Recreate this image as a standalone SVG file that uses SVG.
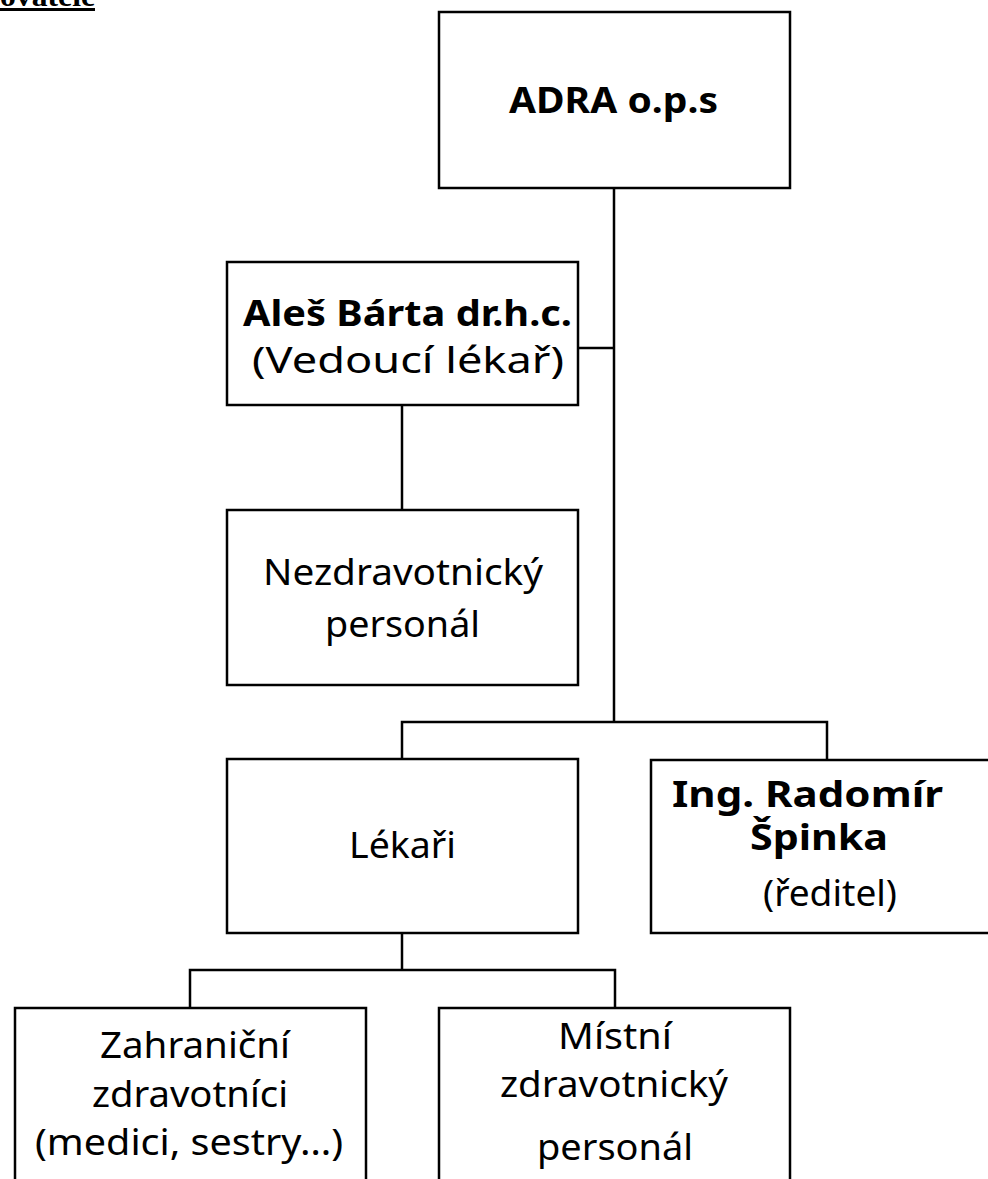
<svg xmlns="http://www.w3.org/2000/svg" width="988" height="1179" viewBox="0 0 988 1179">
<style>
.box{fill:#fff;stroke:#000;stroke-width:2.5}
.ln{fill:none;stroke:#000;stroke-width:2.5}
.t{font-family:"Noto Sans","Open Sans",sans-serif;font-size:37px;fill:#000}
.b{font-weight:bold;font-size:35px}
.hd{font-family:"Liberation Serif","Times New Roman",serif;font-weight:bold;font-size:30px;fill:#000}
</style>
<rect width="988" height="1179" fill="#fff"/>
<g id="header">
<text class="hd" x="0" y="6" textLength="95" lengthAdjust="spacingAndGlyphs">ovatele</text>
<rect x="0" y="8" width="95" height="3" fill="#000"/>
</g>
<g id="connectors">
<polyline class="ln" points="614,188 614,722"/>
<polyline class="ln" points="578,348 614,348"/>
<polyline class="ln" points="402,405 402,510"/>
<polyline class="ln" points="402,759 402,722 827,722 827,760"/>
<polyline class="ln" points="402,933 402,970"/>
<polyline class="ln" points="190,1008 190,970 615,970 615,1008"/>
</g>
<g id="adra">
<rect class="box" x="439" y="12" width="351" height="176"/>
<text class="t b" x="509" y="113" textLength="209" lengthAdjust="spacingAndGlyphs">ADRA o.p.s</text>
</g>
<g id="bartA">
<rect class="box" x="227" y="262" width="351" height="143"/>
<text class="t b" x="243" y="326" textLength="329" lengthAdjust="spacingAndGlyphs">Aleš Bárta dr.h.c.</text>
<text class="t" x="252" y="373" textLength="312" lengthAdjust="spacingAndGlyphs">(Vedoucí lékař)</text>
</g>
<g id="nezdrav">
<rect class="box" x="227" y="510" width="351" height="175"/>
<text class="t" x="263" y="585" textLength="280" lengthAdjust="spacingAndGlyphs">Nezdravotnický</text>
<text class="t" x="325" y="637" textLength="155" lengthAdjust="spacingAndGlyphs">personál</text>
</g>
<g id="lekari">
<rect class="box" x="227" y="759" width="351" height="174"/>
<text class="t" x="349" y="858" textLength="107" lengthAdjust="spacingAndGlyphs">Lékaři</text>
</g>
<g id="spinka">
<rect class="box" x="651" y="760" width="345" height="173"/>
<text class="t b" x="672" y="807" textLength="271" lengthAdjust="spacingAndGlyphs">Ing. Radomír</text>
<text class="t b" x="750" y="850" textLength="138" lengthAdjust="spacingAndGlyphs">Špinka</text>
<text class="t" x="763" y="906" textLength="134" lengthAdjust="spacingAndGlyphs">(ředitel)</text>
</g>
<g id="zahranicni">
<rect class="box" x="15" y="1008" width="351" height="180"/>
<text class="t" x="100" y="1058" textLength="190" lengthAdjust="spacingAndGlyphs">Zahraniční</text>
<text class="t" x="92" y="1107" textLength="196" lengthAdjust="spacingAndGlyphs">zdravotníci</text>
<text class="t" x="35" y="1155" textLength="308" lengthAdjust="spacingAndGlyphs">(medici, sestry…)</text>
</g>
<g id="mistni">
<rect class="box" x="439" y="1008" width="351" height="180"/>
<text class="t" x="558" y="1049" textLength="114" lengthAdjust="spacingAndGlyphs">Místní</text>
<text class="t" x="500" y="1097" textLength="228" lengthAdjust="spacingAndGlyphs">zdravotnický</text>
<text class="t" x="537" y="1160" textLength="156" lengthAdjust="spacingAndGlyphs">personál</text>
</g>
</svg>
